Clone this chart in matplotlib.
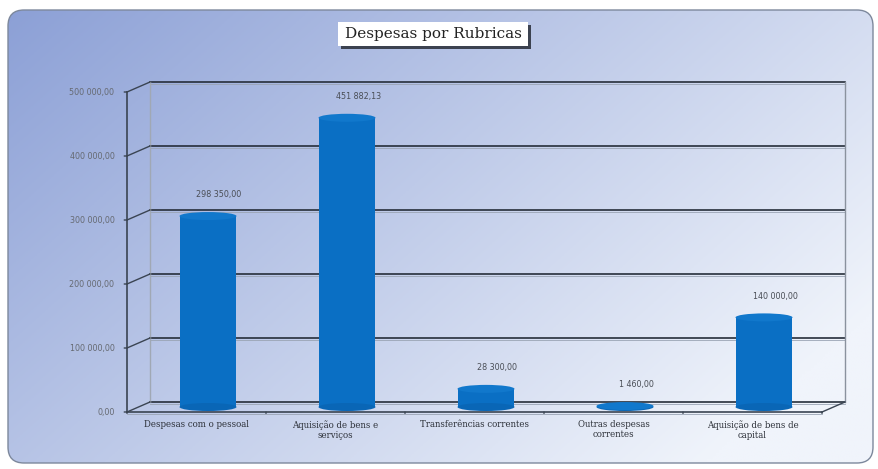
import numpy as np
import matplotlib
matplotlib.use("Agg")
import matplotlib.pyplot as plt
from matplotlib import transforms
from matplotlib.patches import Ellipse, FancyBboxPatch, Rectangle

categories = ["Despesas com o pessoal", "Aquisição de bens e\nserviços",
              "Transferências correntes", "Outras despesas\ncorrentes",
              "Aquisição de bens de\ncapital"]
values = [298350.00, 451882.13, 28300.00, 1460.00, 140000.00]
value_labels = ["298 350,00", "451 882,13", "28 300,00", "1 460,00", "140 000,00"]
yticks = [0, 100000, 200000, 300000, 400000, 500000]
ytick_labels = ["0,00", "100 000,00", "200 000,00", "300 000,00", "400 000,00", "500 000,00"]
title = "Despesas por Rubricas"

W, H = 879, 469
fig = plt.figure(figsize=(W / 100, H / 100), dpi=100)

# background gradient inside rounded frame
bg = fig.add_axes([0, 0, 1, 1])
bg.set_xlim(0, W); bg.set_ylim(H, 0); bg.axis("off")
xx, yy = np.meshgrid(np.linspace(0, 1, 300), np.linspace(0, 1, 160))
t = np.clip(0.72 * xx + 0.42 * yy, 0, 1)
c0 = np.array([0x8c, 0xa0, 0xd6]) / 255
c1 = np.array([0xf0, 0xf4, 0xfb]) / 255
img = c0[None, None, :] * (1 - t[..., None]) + c1[None, None, :] * t[..., None]
frame = FancyBboxPatch((8, 10), W - 14, H - 16, boxstyle="round,pad=0,rounding_size=16",
                       facecolor="none", edgecolor="#7d889c", lw=1.0)
bg.add_patch(frame)
im = bg.imshow(img, extent=[8, W - 6, H - 6, 10], aspect="auto", zorder=0)
im.set_clip_path(frame)

# title box with shadow
bg.add_patch(Rectangle((341, 25), 190, 24, facecolor="#3c4250", edgecolor="none", zorder=2))
bg.add_patch(Rectangle((338, 22), 190, 24, facecolor="white", edgecolor="none", zorder=3))
bg.text(433, 34, title, ha="center", va="center", fontsize=11, family="DejaVu Serif",
        color="#222222", zorder=4)

# main axes: front plane
L, R, B, T = 127, 822, 412, 92
ax = fig.add_axes([L / W, 1 - B / H, (R - L) / W, (B - T) / H])
ax.set_xlim(-0.5, len(categories) - 0.5)
ax.set_ylim(0, 500000)
ax.patch.set_alpha(0)
for s in ax.spines.values():
    s.set_visible(False)
ax.set_xticks([]); ax.set_yticks([])

dx, dy = 23, 10
back = transforms.offset_copy(ax.transData, fig=fig, x=dx, y=dy, units="dots")
mid = transforms.offset_copy(ax.transData, fig=fig, x=dx / 2, y=dy / 2, units="dots")
x0, x1 = -0.5, len(categories) - 0.5

# back wall gridlines
for v in yticks:
    ax.plot([x0, x1], [v, v], color="#262e3a", lw=1.2, transform=back, clip_on=False, zorder=1)
    ax.plot([x0, x1], [v - 3500, v - 3500], color="#9aa4b4", lw=0.6, transform=back, clip_on=False, zorder=1)
# back wall vertical edges
ax.plot([x0, x0], [0, 500000], color="#a0a8b4", lw=1.0, transform=back, clip_on=False, zorder=1)
ax.plot([x1, x1], [0, 500000], color="#8a929e", lw=1.0, transform=back, clip_on=False, zorder=1)

# side wall diagonals (front -> back)
disp = ax.transData
inv = ax.transData.inverted()
for v in yticks:
    p0 = disp.transform((x0, v))
    p1 = p0 + np.array([dx, dy])
    q0, q1 = inv.transform(p0), inv.transform(p1)
    ax.plot([q0[0], q1[0]], [q0[1], q1[1]], color="#3a4452", lw=1.0, clip_on=False, zorder=1)
# floor right diagonal
p0 = disp.transform((x1, 0)); p1 = p0 + np.array([dx, dy])
q0, q1 = inv.transform(p0), inv.transform(p1)
ax.plot([q0[0], q1[0]], [q0[1], q1[1]], color="#3a4452", lw=1.0, clip_on=False, zorder=1)

# front y axis & floor
ax.plot([x0, x0], [0, 500000], color="#3a4452", lw=1.2, clip_on=False, zorder=2)
ax.plot([x0, x1], [0, 0], color="#3a4452", lw=1.2, clip_on=False, zorder=5)
ax.plot([x0, x1], [-2500, -2500], color="#9aa4b4", lw=0.6, clip_on=False, zorder=5)
for v, lab in zip(yticks, ytick_labels):
    ax.annotate(lab, (x0, v), xytext=(-9, 0), textcoords="offset points",
                ha="right", va="center", fontsize=5.8, color="#666a72", family="DejaVu Sans")
    ax.annotate("", (x0, v), xytext=(-4, 0), textcoords="offset points",
                arrowprops=dict(arrowstyle="-", color="#3a4452", lw=1.0))
for b in np.arange(x0, x1 + 0.01, 1.0):
    ax.annotate("", (b, 0), xytext=(0, -3), textcoords="offset points",
                arrowprops=dict(arrowstyle="-", color="#3a4452", lw=1.0))

# cylinder bars at mid depth
xs = np.arange(len(categories))
bw = 0.41
eh = 12500
body = "#0a6fc4"
ax.bar(xs, values, width=bw, color=body, transform=mid, clip_on=False, zorder=3, linewidth=0)
for x, v, lab in zip(xs, values, value_labels):
    ax.add_patch(Ellipse((x, 0), bw, eh, facecolor="#0966b6", edgecolor="none",
                         transform=mid, clip_on=False, zorder=3))
    ax.add_patch(Ellipse((x, v), bw, eh, facecolor="#1178cc", edgecolor="none",
                         transform=mid, clip_on=False, zorder=4))
    ax.annotate(lab, (x, v), xytext=(8, 12), textcoords="offset points", xycoords=mid,
                ha="center", va="bottom", fontsize=5.8, color="#4a4e56", family="DejaVu Sans")

for x, c in zip(xs, categories):
    ax.annotate(c, (x, 0), xytext=(0, -6), textcoords="offset points",
                ha="center", va="top", fontsize=6.2, color="#2c3038",
                family="DejaVu Serif", linespacing=1.1)

fig.savefig("out.png", dpi=100)
